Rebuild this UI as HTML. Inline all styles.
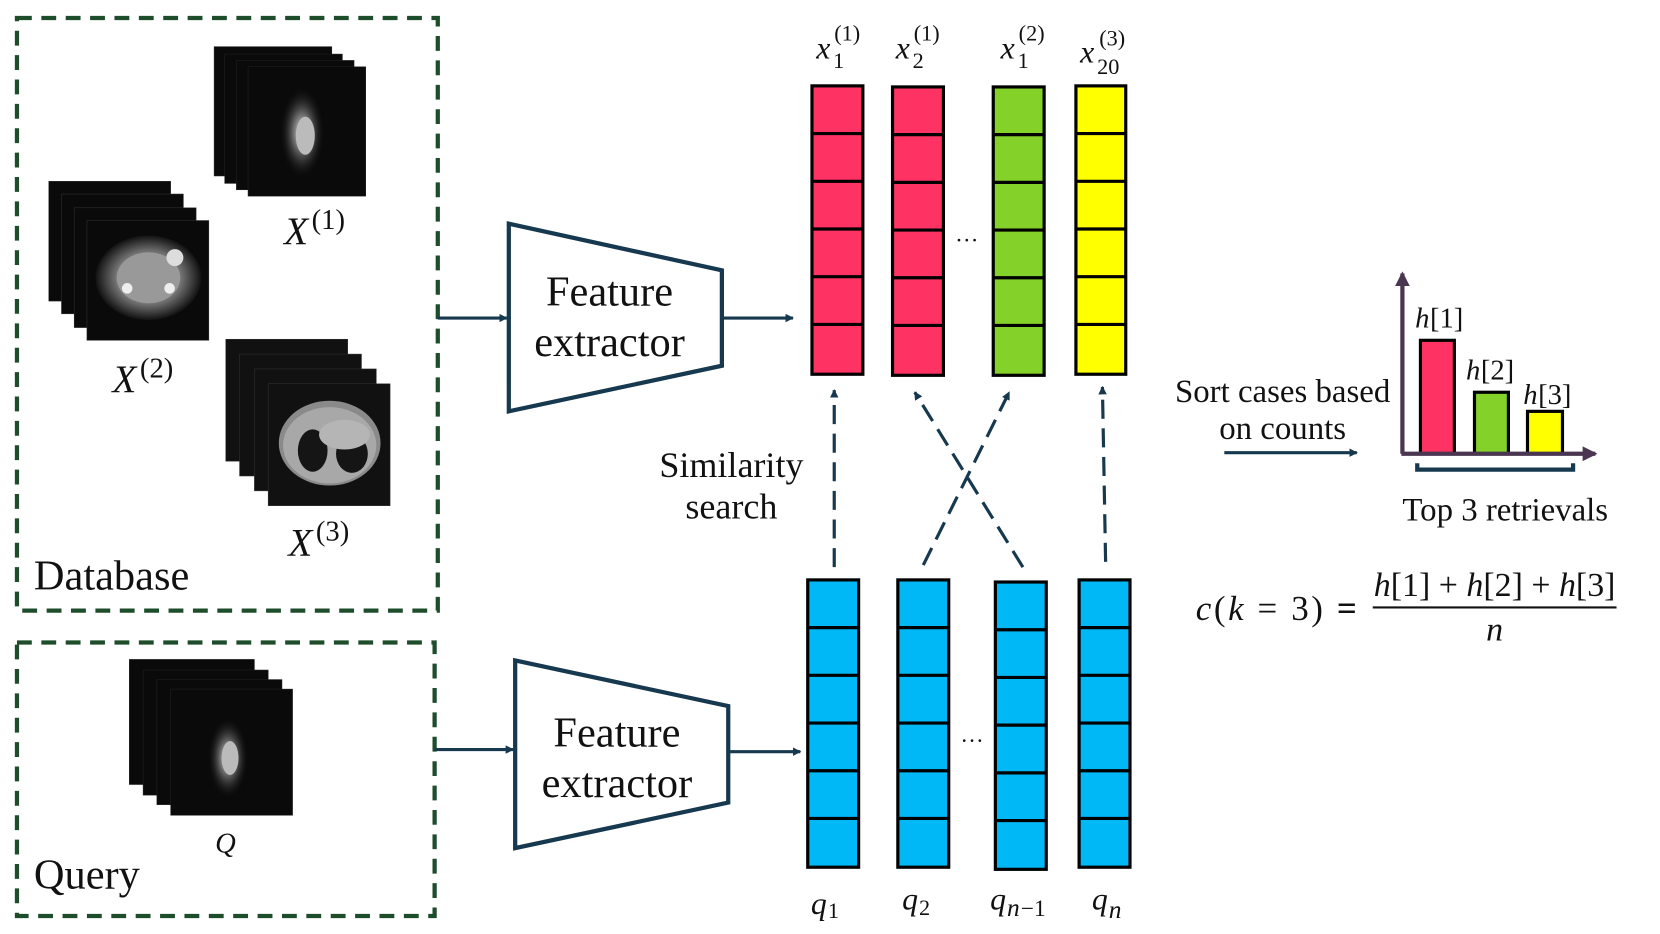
<!DOCTYPE html>
<html><head><meta charset="utf-8"><style>
html,body{margin:0;padding:0;background:#fff;width:1660px;height:934px;overflow:hidden}
svg{display:block}
text{font-family:"Liberation Serif","DejaVu Serif",serif;fill:#111}
.it{font-style:italic}
</style></head><body>
<svg width="1660" height="934" viewBox="0 0 1566 881" preserveAspectRatio="none" xmlns="http://www.w3.org/2000/svg">
<defs>
<marker id="ah" markerWidth="8" markerHeight="8" refX="7" refY="4" orient="auto" markerUnits="userSpaceOnUse"><path d="M0,0 L8,4 L0,8 z" fill="#17394f"/></marker>
<marker id="ah2" markerWidth="14" markerHeight="14" refX="12" refY="7" orient="auto" markerUnits="userSpaceOnUse"><path d="M0,0 L14,7 L0,14 z" fill="#4a3650"/></marker>
<radialGradient id="ct" cx="50%" cy="50%" r="50%"><stop offset="0" stop-color="#aaa"/><stop offset="0.6" stop-color="#777"/><stop offset="1" stop-color="#111"/></radialGradient>
<radialGradient id="mri" cx="50%" cy="50%" r="50%"><stop offset="0" stop-color="#ddd"/><stop offset="0.4" stop-color="#666"/><stop offset="1" stop-color="#000" stop-opacity="0"/></radialGradient>
</defs>

<rect x="16" y="17" width="397" height="559" fill="none" stroke="#1e4d2b" stroke-width="4" stroke-dasharray="14,9"/>
<rect x="16" y="606" width="394" height="258" fill="none" stroke="#1e4d2b" stroke-width="4" stroke-dasharray="14,9"/>
<text x="32" y="556" font-size="40">Database</text>
<text x="32" y="838" font-size="40">Query</text>

<g fill="#0a0a0a" stroke="#222" stroke-width="0.5">
<rect x="202" y="44" width="111" height="122"/><rect x="212" y="51" width="111" height="122"/><rect x="223" y="57" width="111" height="122"/><rect x="234" y="63" width="111" height="122"/>
</g>
<ellipse cx="285" cy="125" rx="22" ry="45" fill="url(#mri)"/>
<ellipse cx="288" cy="128" rx="9" ry="18" fill="#bbb"/>
<text x="268" y="230" font-size="37" class="it">X</text><text x="294" y="216" font-size="27">(1)</text>

<g fill="#0a0a0a" stroke="#333" stroke-width="0.5">
<rect x="46" y="171" width="115" height="113"/><rect x="58" y="183" width="115" height="113"/><rect x="70" y="196" width="115" height="113"/><rect x="82" y="208" width="115" height="113"/>
</g>
<ellipse cx="140" cy="262" rx="50" ry="40" fill="url(#ct)"/>
<ellipse cx="140" cy="262" rx="30" ry="24" fill="#999"/>
<circle cx="165" cy="243" r="8" fill="#ddd"/><circle cx="120" cy="272" r="5" fill="#eee"/><circle cx="160" cy="272" r="5" fill="#eee"/>
<text x="106" y="370" font-size="37" class="it">X</text><text x="132" y="356" font-size="27">(2)</text>

<g fill="#111" stroke="#333" stroke-width="0.5">
<rect x="213" y="320" width="115" height="115"/><rect x="226" y="334" width="115" height="115"/><rect x="240" y="348" width="115" height="115"/><rect x="253" y="362" width="115" height="115"/>
</g>
<ellipse cx="311" cy="418" rx="48" ry="40" fill="#8a8a8a"/>
<ellipse cx="311" cy="420" rx="44" ry="36" fill="#a8a8a8"/>
<ellipse cx="295" cy="425" rx="14" ry="20" fill="#151515"/><ellipse cx="332" cy="428" rx="15" ry="18" fill="#151515"/>
<ellipse cx="325" cy="410" rx="24" ry="14" fill="#b5b5b5"/>
<text x="272" y="524" font-size="37" class="it">X</text><text x="298" y="510" font-size="27">(3)</text>

<g fill="#0a0a0a" stroke="#222" stroke-width="0.5">
<rect x="122" y="622" width="118" height="118"/><rect x="135" y="632" width="118" height="118"/><rect x="148" y="641" width="118" height="118"/><rect x="161" y="650" width="115" height="119"/>
</g>
<ellipse cx="215" cy="715" rx="20" ry="40" fill="url(#mri)"/>
<ellipse cx="217" cy="715" rx="8" ry="16" fill="#bbb"/>
<text x="203" y="804" font-size="27" class="it">Q</text>

<line x1="413" y1="300" x2="478" y2="300" stroke="#17394f" stroke-width="3" marker-end="url(#ah)"/>
<line x1="410" y1="707" x2="484" y2="707" stroke="#17394f" stroke-width="3" marker-end="url(#ah)"/>

<polygon points="480,211 681,255 681,345 480,388" fill="#fff" stroke="#17394f" stroke-width="4"/>
<text x="575" y="288" font-size="40" text-anchor="middle">Feature</text>
<text x="575" y="336" font-size="40" text-anchor="middle">extractor</text>
<polygon points="486,623 687,666 687,757 486,800" fill="#fff" stroke="#17394f" stroke-width="4"/>
<text x="582" y="704" font-size="40" text-anchor="middle">Feature</text>
<text x="582" y="752" font-size="40" text-anchor="middle">extractor</text>

<line x1="681" y1="300" x2="748" y2="300" stroke="#17394f" stroke-width="3" marker-end="url(#ah)"/>
<line x1="687" y1="709" x2="755" y2="709" stroke="#17394f" stroke-width="3" marker-end="url(#ah)"/>

<g stroke="#000" stroke-width="3">
<g fill="#ff3363">
<rect x="766" y="81" width="48" height="272"/>
<rect x="842" y="82" width="48" height="272"/>
</g>
<rect x="937" y="82" width="48" height="272" fill="#84d12a"/>
<rect x="1015" y="81" width="47" height="272" fill="#ffff00"/>
</g>
<g stroke="#000" stroke-width="3">
<path d="M766,126h48M766,171h48M766,216h48M766,261h48M766,306h48"/>
<path d="M842,127h48M842,172h48M842,217h48M842,262h48M842,307h48"/>
<path d="M937,127h48M937,172h48M937,217h48M937,262h48M937,307h48"/>
<path d="M1015,126h47M1015,171h47M1015,216h47M1015,261h47M1015,306h47"/>
</g>
<text x="912" y="228" font-size="22" text-anchor="middle">…</text>

<text x="770" y="55" font-size="30" class="it">x</text><text x="786" y="64" font-size="21">1</text><text x="787" y="38" font-size="21">(1)</text>
<text x="845" y="55" font-size="30" class="it">x</text><text x="861" y="64" font-size="21">2</text><text x="862" y="38" font-size="21">(1)</text>
<text x="944" y="55" font-size="30" class="it">x</text><text x="960" y="64" font-size="21">1</text><text x="961" y="38" font-size="21">(2)</text>
<text x="1019" y="59" font-size="30" class="it">x</text><text x="1035" y="70" font-size="21">20</text><text x="1037" y="43" font-size="21">(3)</text>

<g fill="#00b8f5" stroke="#000" stroke-width="3">
<rect x="762" y="547" width="48" height="271"/>
<rect x="847" y="547" width="48" height="271"/>
<rect x="939" y="549" width="48" height="271"/>
<rect x="1018" y="547" width="48" height="271"/>
</g>
<g stroke="#000" stroke-width="3">
<path d="M762,592h48M762,637h48M762,682h48M762,727h48M762,772h48"/>
<path d="M847,592h48M847,637h48M847,682h48M847,727h48M847,772h48"/>
<path d="M939,594h48M939,639h48M939,684h48M939,729h48M939,774h48"/>
<path d="M1018,592h48M1018,637h48M1018,682h48M1018,727h48M1018,772h48"/>
</g>
<text x="917" y="700" font-size="22" text-anchor="middle">…</text>

<text x="765" y="862" font-size="30" class="it">q</text><text x="781" y="866" font-size="21">1</text>
<text x="851" y="858" font-size="30" class="it">q</text><text x="867" y="863" font-size="21">2</text>
<text x="934" y="858" font-size="30" class="it">q</text><text x="950" y="864" font-size="24" class="it">n</text><text x="963" y="864" font-size="22">−1</text>
<text x="1030" y="858" font-size="30" class="it">q</text><text x="1046" y="866" font-size="24" class="it">n</text>

<g stroke="#17394f" stroke-width="3" stroke-dasharray="18,9" fill="none">
<line x1="787" y1="535" x2="787" y2="368" marker-end="url(#ah)"/>
<line x1="871" y1="533" x2="952" y2="370" marker-end="url(#ah)"/>
<line x1="965" y1="535" x2="863" y2="370" marker-end="url(#ah)"/>
<line x1="1043" y1="530" x2="1040" y2="365" marker-end="url(#ah)"/>
</g>
<text x="690" y="450" font-size="34" text-anchor="middle">Similarity</text>
<text x="690" y="489" font-size="34" text-anchor="middle">search</text>

<text x="1210" y="379" font-size="31" text-anchor="middle">Sort cases based</text>
<text x="1210" y="414" font-size="31" text-anchor="middle">on counts</text>
<line x1="1155" y1="427" x2="1280" y2="427" stroke="#17394f" stroke-width="3" marker-end="url(#ah)"/>

<g stroke="#000" stroke-width="3">
<rect x="1340" y="321" width="32" height="107" fill="#ff3363"/>
<rect x="1391" y="370" width="32" height="58" fill="#84d12a"/>
<rect x="1441" y="388" width="33" height="40" fill="#ffff00"/>
</g>
<line x1="1323" y1="428" x2="1323" y2="258" stroke="#4a3650" stroke-width="4" marker-end="url(#ah2)"/>
<line x1="1322" y1="428" x2="1505" y2="428" stroke="#4a3650" stroke-width="4" marker-end="url(#ah2)"/>
<path d="M1337,437 v6 h147 v-6" fill="none" stroke="#17394f" stroke-width="4"/>
<text x="1335" y="309" font-size="27" class="it">h</text><text x="1349" y="309" font-size="27">[1]</text>
<text x="1383" y="358" font-size="27" class="it">h</text><text x="1397" y="358" font-size="27">[2]</text>
<text x="1437" y="381" font-size="27" class="it">h</text><text x="1451" y="381" font-size="27">[3]</text>
<text x="1420" y="491" font-size="31" text-anchor="middle">Top 3 retrievals</text>

<text x="1128" y="585" font-size="33" textLength="152" lengthAdjust="spacing"><tspan class="it">c</tspan>(<tspan class="it">k</tspan> = 3) <tspan font-weight="bold">=</tspan></text>
<text x="1410" y="562" font-size="32" text-anchor="middle"><tspan class="it">h</tspan>[1] + <tspan class="it">h</tspan>[2] + <tspan class="it">h</tspan>[3]</text>
<line x1="1295" y1="573" x2="1525" y2="573" stroke="#111" stroke-width="2"/>
<text x="1410" y="604" font-size="32" text-anchor="middle" class="it">n</text>
</svg>
</body></html>
